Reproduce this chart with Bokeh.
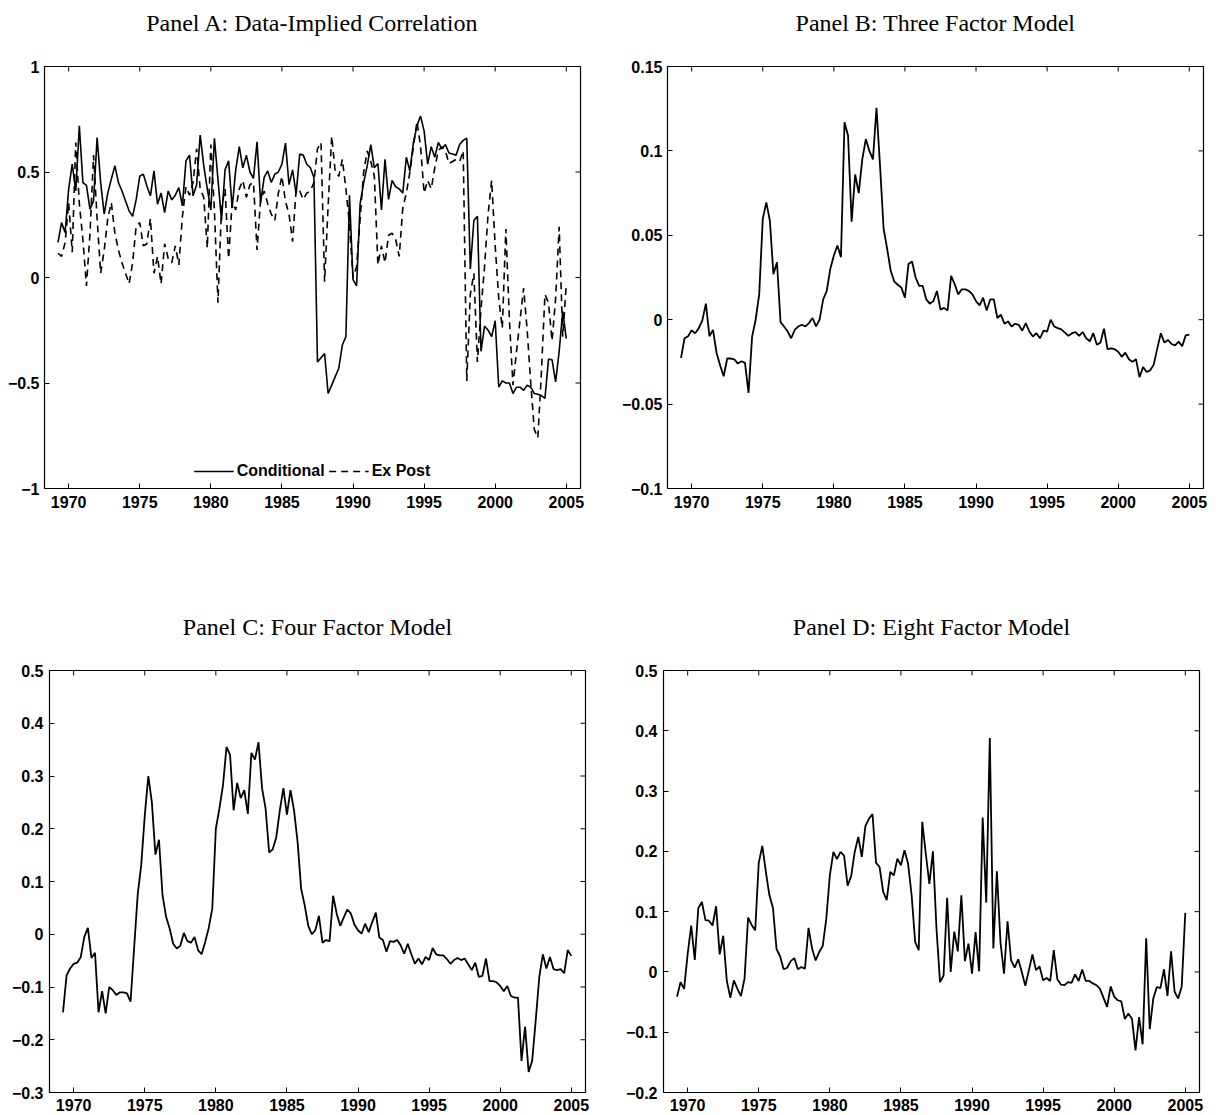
from bokeh.plotting import figure
from bokeh.layouts import column, row
from bokeh.models import FixedTicker, Range1d, Legend, LegendItem
from bokeh.embed import file_html
from bokeh.resources import INLINE

# ---------------- data ----------------
n_quarters = 144
quarters = [1969.25 + 0.25 * k for k in range(n_quarters)]

x_ticks = [1970, 1975, 1980, 1985, 1990, 1995, 2000, 2005]
x_tick_labels = ["1970", "1975", "1980", "1985", "1990", "1995", "2000", "2005"]

panel_titles = ["Panel A: Data-Implied Correlation", "Panel B: Three Factor Model",
                "Panel C: Four Factor Model", "Panel D: Eight Factor Model"]
legend_labels = ["Conditional", "Ex Post"]

a_conditional = [
    0.166, 0.26, 0.213, 0.42, 0.537, 0.41, 0.719, 0.45, 0.437, 0.324, 0.363, 0.663, 0.45, 0.30, 0.40, 0.466,
    0.53, 0.45, 0.41, 0.363, 0.316, 0.29, 0.37, 0.48, 0.49, 0.434, 0.387, 0.505, 0.347, 0.40, 0.308, 0.41,
    0.368, 0.39, 0.426, 0.34, 0.553, 0.58,
    0.387, 0.44, 0.675, 0.53, 0.42, 0.32, 0.66, 0.466, 0.27, 0.51, 0.553, 0.33, 0.51, 0.62, 0.52, 0.58,
    0.50, 0.47, 0.643, 0.355, 0.474, 0.505, 0.45, 0.49, 0.50, 0.537, 0.637, 0.44, 0.51, 0.395, 0.585, 0.58,
    0.537, 0.52, 0.474,
    -0.40, -0.38, -0.36, -0.55, -0.51, -0.47, -0.43, -0.32, -0.28, 0.39, -0.01, -0.04, 0.35, 0.45, 0.53, 0.63,
    0.52, 0.54, 0.32, 0.56, 0.37, 0.46, 0.43, 0.42, 0.40, 0.57, 0.505, 0.64, 0.72, 0.765, 0.695, 0.537,
    0.62, 0.57, 0.64, 0.61, 0.63, 0.59, 0.585, 0.58, 0.63, 0.65, 0.66, 0.04, 0.27, 0.29, -0.35, -0.23,
    -0.25, -0.28, -0.205, -0.52, -0.49, -0.50, -0.50, -0.55, -0.52, -0.52, -0.535, -0.51, -0.52, -0.55, -0.553, -0.56,
    -0.573, -0.387, -0.39, -0.495, -0.35, -0.16, -0.29,
]

a_ex_post = [
    0.115, 0.10, 0.166, 0.355, 0.12, 0.64, 0.35, 0.18, -0.04, 0.21, 0.58, 0.28, 0.02, 0.13, 0.28, 0.355,
    0.21, 0.13, 0.07, 0.02, -0.03, 0.07, 0.245, 0.26, 0.15, 0.16, 0.28, 0.02, 0.10, -0.03, 0.16, 0.09,
    0.07, 0.15, 0.06, 0.29, 0.43, 0.39,
    0.45, 0.61, 0.42, 0.38, 0.14, 0.63, 0.32, -0.12, 0.33, 0.42, 0.09, 0.36, 0.32, 0.42, 0.46, 0.38,
    0.44, 0.45, 0.13, 0.37, 0.41, 0.35, 0.30, 0.27, 0.40, 0.48, 0.36, 0.30, 0.17, 0.42, 0.41, 0.37,
    0.40, 0.41, 0.45, 0.61, 0.64,
    -0.02, 0.34, 0.67, 0.50, 0.48, 0.56, 0.42, 0.25, 0.00, 0.05, 0.28, 0.50, 0.60, 0.55, 0.48, 0.06,
    0.15, 0.07, 0.20, 0.21, 0.18, 0.10, 0.33, 0.40, 0.50, 0.62, 0.74, 0.62, 0.40, 0.46, 0.42, 0.52,
    0.60, 0.62, 0.60, 0.54, 0.55, 0.56, 0.55, 0.60, -0.49,
    -0.08, 0.02, -0.40, -0.15, 0.05, 0.30, 0.46, 0.15, -0.10, -0.24, 0.23, -0.20, -0.51, -0.35, -0.20, -0.05,
    -0.25, -0.50, -0.72, -0.76, -0.45, -0.08, -0.12, -0.30, -0.10, 0.24, -0.28, -0.03,
]

b_three_factor = [
    -0.0226, -0.011, -0.0098, -0.0063, -0.008, -0.005, -0.0004, 0.0095, -0.0098, -0.006, -0.0197, -0.027,
    -0.0335, -0.023, -0.023, -0.0235, -0.026, -0.0246, -0.0256, -0.0433, -0.010, 0.000, 0.015, 0.0597,
    0.0695, 0.0587, 0.027, 0.034, -0.0014, -0.004, -0.007, -0.011, -0.006, -0.004, -0.003, -0.004,
    -0.002, 0.001, -0.004, 0.000, 0.012, 0.017, 0.030, 0.038, 0.044, 0.037, 0.117, 0.109,
    0.058, 0.086, 0.075, 0.095, 0.107, 0.100, 0.095, 0.1256, 0.091, 0.054, 0.042, 0.029,
    0.0226, 0.0207, 0.019,
    0.013, 0.033, 0.0345, 0.025, 0.020, 0.020, 0.012, 0.0095, 0.011, 0.017, 0.006, 0.007, 0.0055, 0.026,
    0.021, 0.015, 0.018, 0.018, 0.017, 0.015, 0.011, 0.0085, 0.013, 0.0055, 0.012, 0.012, 0.001, 0.003,
    -0.0024, -0.001, -0.004, -0.0024, -0.003, -0.0065, -0.002, -0.007, -0.010, -0.008, -0.011, -0.0065,
    -0.007, 0.000, -0.004, -0.005, -0.0057, -0.0077, -0.0096, -0.008, -0.0073, -0.0096, -0.0073, -0.011,
    -0.0128, -0.008, -0.0148, -0.0136, -0.0053, -0.0175, -0.017, -0.0175, -0.019, -0.022, -0.0195, -0.0234,
    -0.025, -0.0234, -0.034, -0.028, -0.031, -0.030, -0.0266, -0.017, -0.008, -0.0136, -0.012, -0.0144,
    -0.0152, -0.013, -0.0157, -0.0093, -0.0089,
]

c_four_factor = [
    -0.148, -0.078, -0.065, -0.056, -0.054, -0.043, -0.005, 0.012, -0.045, -0.035, -0.148, -0.108,
    -0.150, -0.100, -0.106, -0.115, -0.110, -0.110, -0.112, -0.128, -0.027, 0.074, 0.131, 0.225,
    0.300, 0.250, 0.151, 0.179, 0.074, 0.033, 0.011, -0.018, -0.027, -0.022, 0.0025, -0.013,
    -0.016, -0.005, -0.030, -0.038, -0.0145, 0.012, 0.049, 0.200, 0.238, 0.282, 0.355, 0.340,
    0.235, 0.287, 0.258, 0.273, 0.228, 0.344, 0.331, 0.364, 0.277, 0.238, 0.155, 0.161,
    0.184, 0.235, 0.277, 0.227,
    0.273, 0.235, 0.175, 0.086, 0.055, 0.016, 0.0, 0.0076, 0.035, -0.016, -0.011, -0.013, 0.073, 0.039,
    0.016, 0.032, 0.047, 0.039, 0.018, 0.0076, 0.001, 0.020, 0.004, 0.023, 0.041, -0.006, -0.011, -0.033,
    -0.013, -0.0145, -0.011, -0.021, -0.037, -0.018, -0.038, -0.056, -0.046, -0.057, -0.043, -0.049,
    -0.026, -0.038, -0.040, -0.040, -0.047, -0.056, -0.049, -0.045, -0.049, -0.046, -0.057, -0.068,
    -0.054, -0.081, -0.079, -0.046, -0.089, -0.089, -0.091, -0.098, -0.108, -0.098, -0.117, -0.120,
    -0.120, -0.240, -0.175, -0.261, -0.240, -0.163, -0.081, -0.038, -0.065, -0.043, -0.066, -0.068,
    -0.066, -0.074, -0.030, -0.041,
]

d_eight_factor = [
    -0.041, -0.017, -0.028, 0.030, 0.077, 0.020, 0.106, 0.116, 0.086, 0.085, 0.077, 0.109,
    0.029, 0.060, -0.014, -0.043, -0.014, -0.028, -0.040, -0.011, 0.090, 0.078, 0.069, 0.181,
    0.209, 0.166, 0.127, 0.106, 0.038, 0.026, 0.0044, 0.007, 0.018, 0.023, 0.0044, 0.008,
    0.0055, 0.073, 0.039, 0.019, 0.033, 0.043, 0.088, 0.160, 0.199, 0.187, 0.199, 0.193,
    0.143, 0.159, 0.199, 0.224, 0.191, 0.242, 0.254, 0.262, 0.181, 0.174, 0.133, 0.119,
    0.166, 0.160, 0.188,
    0.177, 0.202, 0.18, 0.128, 0.05, 0.036, 0.249, 0.196, 0.146, 0.2, 0.072, -0.017, -0.006, 0.123,
    0.0, 0.067, 0.034, 0.127, 0.018, 0.047, -0.003, 0.066, 0.001, 0.256, 0.115, 0.388, 0.039, 0.167,
    0.05, -0.003, 0.084, 0.019, 0.007, 0.021, 0.0, -0.023, 0.003, 0.029, 0.003, 0.009, -0.014, -0.010,
    -0.015, 0.036, -0.012, -0.021, -0.022, -0.017, -0.018, -0.004, -0.015, 0.004, -0.015, -0.015,
    -0.019, -0.022, -0.028, -0.043, -0.058, -0.024, -0.041, -0.047, -0.049, -0.078, -0.069, -0.078,
    -0.130, -0.075, -0.120, 0.056, -0.095, -0.044, -0.025, -0.027, 0.0044, -0.040, 0.034, -0.033,
    -0.044, -0.024, 0.098,
]

a_yticks = [-1, -0.5, 0, 0.5, 1]
a_ylabels = ["\u22121", "\u22120.5", "0", "0.5", "1"]
b_yticks = [-0.1, -0.05, 0, 0.05, 0.1, 0.15]
b_ylabels = ["\u22120.1", "\u22120.05", "0", "0.05", "0.1", "0.15"]
c_yticks = [-0.3, -0.2, -0.1, 0, 0.1, 0.2, 0.3, 0.4, 0.5]
c_ylabels = ["\u22120.3", "\u22120.2", "\u22120.1", "0", "0.1", "0.2", "0.3", "0.4", "0.5"]
d_yticks = [-0.2, -0.1, 0, 0.1, 0.2, 0.3, 0.4, 0.5]
d_ylabels = ["\u22120.2", "\u22120.1", "0", "0.1", "0.2", "0.3", "0.4", "0.5"]

for s in (a_conditional, a_ex_post, b_three_factor, c_four_factor, d_eight_factor):
    assert len(s) == n_quarters, len(s)

# ---------------- styling ----------------
TICK_FONT = "Liberation Sans"
TITLE_FONT = "Liberation Serif"
FRAME_W, FRAME_H = 536, 422
X_LO, X_HI = 1968.3, 2006.0
TICK_PX = 5


def style_axis(ax, ticks, labels, standoff):
    ax.ticker = FixedTicker(ticks=ticks)
    ax.major_label_overrides = {t: l for t, l in zip(ticks, labels)}
    ax.major_tick_in = TICK_PX
    ax.major_tick_out = 0
    ax.major_tick_line_color = "black"
    ax.minor_tick_line_color = None
    ax.axis_line_color = None
    ax.major_label_standoff = standoff
    ax.major_label_text_font = TICK_FONT
    ax.major_label_text_font_style = "bold"
    ax.major_label_text_font_size = "16px"
    ax.major_label_text_color = "black"


def make_panel(title, y_lo, y_hi, yticks, ylabels, bl, br, bt, bb, xstand, ystand):
    # the trailing line break lifts the title away from the box, as in the original
    p = figure(frame_width=FRAME_W, frame_height=FRAME_H,
               x_range=Range1d(X_LO, X_HI), y_range=Range1d(y_lo, y_hi),
               output_backend="svg", toolbar_location=None, title=title + "\n",
               min_border_left=bl, min_border_right=br, min_border_top=bt, min_border_bottom=bb,
               background_fill_color="white", border_fill_color="white",
               outline_line_color="black", outline_line_width=1.2)
    p.grid.visible = False
    p.title.align = "center"
    p.title.vertical_align = "bottom"
    p.title.standoff = 10
    p.title.text_font = TITLE_FONT
    p.title.text_font_size = "24px"
    p.title.text_font_style = "normal"
    p.title.text_color = "black"
    style_axis(p.xaxis[0], x_ticks, x_tick_labels, xstand)
    style_axis(p.yaxis[0], yticks, ylabels, ystand)

    # inward ticks on the top and right edges of the box (derived from tick lists and ranges)
    dy = TICK_PX * (y_hi - y_lo) / FRAME_H
    dx = TICK_PX * (X_HI - X_LO) / FRAME_W
    p.segment(x0=x_ticks, x1=x_ticks, y0=[y_hi] * len(x_ticks), y1=[y_hi - dy] * len(x_ticks),
              line_color="black", line_width=1)
    p.segment(x0=[X_HI] * len(yticks), x1=[X_HI - dx] * len(yticks), y0=yticks, y1=yticks,
              line_color="black", line_width=1)
    return p


pa = make_panel(panel_titles[0], -1, 1, a_yticks, a_ylabels, 44, 37, 66, 116, 7, 5)
r_cond = pa.line(quarters, a_conditional, line_color="black", line_width=1.6)
r_expost = pa.line(quarters, a_ex_post, line_color="black", line_width=1.6, line_dash="7 5")
legend = Legend(items=[LegendItem(label=legend_labels[0], renderers=[r_cond]),
                       LegendItem(label=legend_labels[1], renderers=[r_expost])],
                location="bottom_center", orientation="horizontal",
                border_line_color=None, background_fill_alpha=0,
                label_text_font=TICK_FONT, label_text_font_style="bold",
                label_text_font_size="16px", label_text_color="black",
                glyph_width=40, glyph_height=16,
                label_standoff=3, spacing=4, padding=0, margin=8)
pa.add_layout(legend)

pb = make_panel(panel_titles[1], -0.1, 0.15, b_yticks, b_ylabels, 50, 5, 66, 116, 7, 5)
pb.line(quarters, b_three_factor, line_color="black", line_width=1.8)

pc = make_panel(panel_titles[2], -0.3, 0.5, c_yticks, c_ylabels, 49, 32, 66, 21, 6, 6)
pc.line(quarters, c_four_factor, line_color="black", line_width=1.8)

pd = make_panel(panel_titles[3], -0.2, 0.5, d_yticks, d_ylabels, 46, 9, 66, 21, 6, 6)
pd.line(quarters, d_eight_factor, line_color="black", line_width=1.8)

layout = column(row(pa, pb), row(pc, pd))

open("out.html", "w").write(file_html(layout, INLINE))
